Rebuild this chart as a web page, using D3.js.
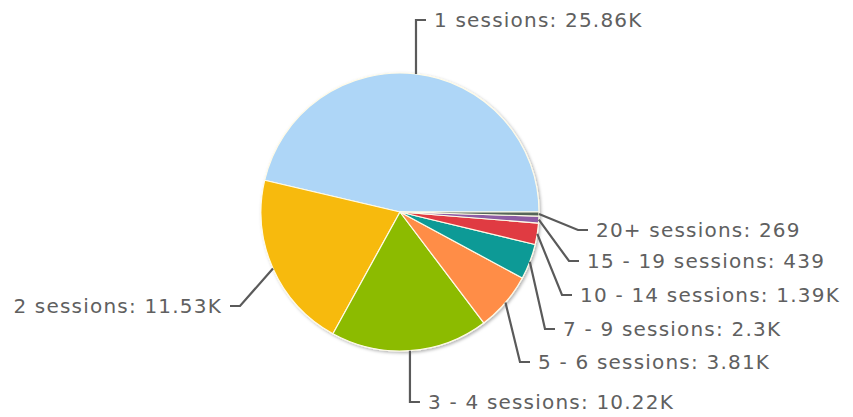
<!DOCTYPE html>
<html>
<head>
<meta charset="utf-8">
<script src="https://cdn.jsdelivr.net/npm/d3@7/dist/d3.min.js"></script>
<style>
  html, body { margin: 0; padding: 0; background: #fff; }
  svg { display: block; }
  .lbl { font-family: "DejaVu Sans", Verdana, sans-serif; font-size: 20px; letter-spacing: 1.2px; fill: #606060; }
</style>
</head>
<body>
<svg id="chart" width="853" height="417"></svg>
<script>
// ---- data ----
const categories = ["1 sessions", "2 sessions", "3 - 4 sessions", "5 - 6 sessions",
                    "7 - 9 sessions", "10 - 14 sessions", "15 - 19 sessions", "20+ sessions"];
const values = [25860, 11530, 10220, 3810, 2300, 1390, 439, 269];
const colors = ["#AED6F7", "#F7BA0F", "#8CBB00", "#FF8D47", "#0C9A96", "#E03A42", "#8D5BA4", "#56665A"];

// ---- layout (label elbows, not data) ----
const W = 853, H = 417;
const cx = 400, cy = 212, R = 139;
// elbow points for leader lines; null x = vertical line from slice edge
const elbows = [
  { x: null, y: 20, side: 1 },
  { x: 240, y: 306, side: -1 },
  { x: null, y: 402, side: 1 },
  { x: 520, y: 362, side: 1 },
  { x: 545, y: 329, side: 1 },
  { x: 562, y: 295, side: 1 },
  { x: 569, y: 261, side: 1 },
  { x: 578, y: 230, side: 1 }
];

const fmt = v => v >= 1000 ? (+(v / 1000).toFixed(2)) + "K" : String(v);

const svg = d3.select("#chart");
const defs = svg.append("defs");
const f = defs.append("filter").attr("id", "shadow")
  .attr("x", "-10%").attr("y", "-10%").attr("width", "120%").attr("height", "120%");
f.append("feDropShadow").attr("dx", 1.5).attr("dy", 1.5).attr("stdDeviation", 1.8)
  .attr("flood-color", "#000").attr("flood-opacity", 0.3);

const data = categories.map((c, i) => ({ name: c, value: values[i], color: colors[i] }));

const pie = d3.pie().value(d => d.value).sort(null)
  .startAngle(Math.PI / 2).endAngle(Math.PI / 2 - 2 * Math.PI);
const arcs = pie(data);
const arc = d3.arc().innerRadius(0).outerRadius(R);

const g = svg.append("g").attr("transform", `translate(${cx},${cy})`);
g.append("g").attr("filter", "url(#shadow)")
  .selectAll("path").data(arcs).join("path")
  .attr("d", arc)
  .attr("fill", d => d.data.color)
  .attr("stroke", "#fffbe8")
  .attr("stroke-width", 1.2)
  .attr("stroke-linejoin", "round");

// leader lines + labels
const lines = svg.append("g");
const texts = svg.append("g");
arcs.forEach((a, i) => {
  const mid = (a.startAngle + a.endAngle) / 2;
  const sx = cx + R * Math.sin(mid);
  const sy = cy - R * Math.cos(mid);
  const e = elbows[i];
  const ex = e.x === null ? sx : e.x;
  const ey = e.y;
  const tx = ex + e.side * 10;
  lines.append("path")
    .attr("d", `M${sx},${sy}L${ex},${ey}L${tx},${ey}`)
    .attr("fill", "none").attr("stroke", "#5a5a5a").attr("stroke-width", 2.2);
  texts.append("text").attr("class", "lbl")
    .attr("x", tx + e.side * 8)
    .attr("y", ey)
    .attr("dy", "0.36em")
    .attr("text-anchor", e.side > 0 ? "start" : "end")
    .text(`${a.data.name}: ${fmt(a.data.value)}`);
});
</script>
</body>
</html>
